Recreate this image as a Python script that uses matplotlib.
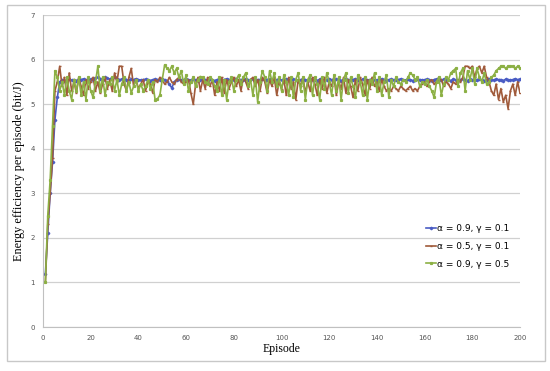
import matplotlib
matplotlib.use("Agg")
import matplotlib.pyplot as plt
from matplotlib.patches import Rectangle
import numpy as np

episodes = list(range(1, 201))

blue = [1.2, 2.1, 3.0, 3.7, 4.65, 5.15, 5.5, 5.55, 5.52, 5.55, 5.56, 5.54, 5.55, 5.53, 5.56, 5.55, 5.57, 5.54, 5.55, 5.56,
        5.55, 5.58, 5.6, 5.57, 5.55, 5.6, 5.58, 5.56, 5.59, 5.6, 5.57, 5.55, 5.56, 5.58, 5.55, 5.54, 5.56, 5.55, 5.57, 5.55,
        5.54, 5.55, 5.56, 5.55, 5.53, 5.55, 5.56, 5.55, 5.54, 5.56, 5.55, 5.52, 5.45, 5.36, 5.5, 5.55, 5.56, 5.54, 5.55, 5.57,
        5.55, 5.54, 5.56, 5.55, 5.53, 5.55, 5.57, 5.55, 5.54, 5.56, 5.55, 5.53, 5.55, 5.56, 5.54, 5.55, 5.57, 5.55, 5.53, 5.55,
        5.56, 5.54, 5.55, 5.55, 5.57, 5.54, 5.55, 5.56, 5.53, 5.55, 5.55, 5.57, 5.54, 5.55, 5.56, 5.55, 5.53, 5.55, 5.56, 5.54,
        5.55, 5.57, 5.55, 5.54, 5.56, 5.55, 5.53, 5.55, 5.56, 5.55, 5.54, 5.57, 5.55, 5.55, 5.53, 5.56, 5.55, 5.54, 5.55, 5.57,
        5.55, 5.54, 5.56, 5.55, 5.53, 5.55, 5.56, 5.55, 5.54, 5.55, 5.57, 5.55, 5.53, 5.56, 5.55, 5.54, 5.55, 5.56, 5.55, 5.54,
        5.55, 5.57, 5.55, 5.53, 5.55, 5.56, 5.55, 5.54, 5.55, 5.57, 5.55, 5.54, 5.56, 5.55, 5.53, 5.55, 5.56, 5.55, 5.54, 5.55,
        5.56, 5.55, 5.53, 5.55, 5.57, 5.55, 5.54, 5.56, 5.55, 5.55, 5.53, 5.56, 5.55, 5.54, 5.55, 5.57, 5.55, 5.53, 5.56, 5.55,
        5.54, 5.55, 5.56, 5.55, 5.53, 5.55, 5.57, 5.55, 5.54, 5.56, 5.55, 5.55, 5.53, 5.56, 5.55, 5.54, 5.55, 5.57, 5.55, 5.56]

brown = [1.0, 2.3, 3.0, 3.8, 5.3, 5.5, 5.85, 5.4, 5.6, 5.2, 5.7, 5.3, 5.5, 5.25, 5.6, 5.4, 5.2, 5.55, 5.35, 5.5,
         5.6, 5.3, 5.5, 5.25, 5.45, 5.6, 5.35, 5.55, 5.3, 5.7, 5.5, 5.85, 5.85, 5.45, 5.3, 5.6, 5.8, 5.4, 5.55, 5.35,
         5.45, 5.55, 5.3, 5.5, 5.45, 5.25, 5.55, 5.5, 5.6, 5.55, 5.45, 5.5, 5.6, 5.5, 5.45, 5.55, 5.6, 5.5, 5.45, 5.5,
         5.55, 5.25, 5.0, 5.45, 5.6, 5.3, 5.55, 5.35, 5.6, 5.4, 5.55, 5.2, 5.5, 5.3, 5.6, 5.25, 5.55, 5.35, 5.5, 5.6,
         5.4, 5.55, 5.3, 5.6, 5.5, 5.35, 5.55, 5.6, 5.4, 5.55, 5.3, 5.6, 5.5, 5.25, 5.55, 5.4, 5.6, 5.2, 5.5, 5.35,
         5.55, 5.2, 5.6, 5.35, 5.5, 5.1, 5.55, 5.4, 5.6, 5.25, 5.5, 5.3, 5.6, 5.45, 5.2, 5.55, 5.35, 5.6, 5.25, 5.5,
         5.4, 5.6, 5.2, 5.5, 5.35, 5.6, 5.25, 5.55, 5.4, 5.15, 5.55, 5.3, 5.6, 5.45, 5.2, 5.55, 5.35, 5.6, 5.4, 5.5,
         5.3, 5.55, 5.4, 5.3, 5.35, 5.3, 5.4, 5.35, 5.3, 5.4, 5.35, 5.3, 5.35, 5.4, 5.3, 5.35, 5.3, 5.4, 5.45, 5.5,
         5.4, 5.5, 5.55, 5.45, 5.5, 5.6, 5.55, 5.4, 5.5, 5.45, 5.35, 5.5, 5.45, 5.55, 5.5, 5.6, 5.85, 5.85, 5.8, 5.85,
         5.6, 5.8, 5.85, 5.7, 5.85, 5.6, 5.5, 5.3, 5.2, 5.45, 5.1, 5.35, 5.05, 5.2, 4.9, 5.3, 5.45, 5.2, 5.5, 5.25]

green = [1.0, 2.5, 3.3, 4.5, 5.75, 5.6, 5.3, 5.5, 5.2, 5.6, 5.3, 5.1, 5.55, 5.3, 5.6, 5.2, 5.5, 5.1, 5.6, 5.3,
         5.15, 5.5, 5.85, 5.3, 5.6, 5.2, 5.5, 5.45, 5.6, 5.3, 5.55, 5.2, 5.45, 5.6, 5.3, 5.5, 5.25, 5.4, 5.55, 5.3,
         5.45, 5.3, 5.4, 5.55, 5.35, 5.5, 5.1, 5.12, 5.2, 5.55, 5.88, 5.8, 5.75, 5.85, 5.7, 5.8, 5.6, 5.75, 5.45, 5.65,
         5.3, 5.5, 5.6, 5.4, 5.55, 5.62, 5.6, 5.5, 5.45, 5.6, 5.55, 5.4, 5.3, 5.6, 5.2, 5.55, 5.1, 5.5, 5.6, 5.3,
         5.55, 5.65, 5.45, 5.6, 5.7, 5.4, 5.55, 5.2, 5.6, 5.05, 5.5, 5.75, 5.6, 5.3, 5.75, 5.5, 5.7, 5.4, 5.6, 5.3,
         5.65, 5.5, 5.2, 5.6, 5.15, 5.55, 5.7, 5.3, 5.6, 5.1, 5.55, 5.65, 5.2, 5.6, 5.45, 5.1, 5.6, 5.35, 5.7, 5.5,
         5.2, 5.65, 5.3, 5.6, 5.1, 5.55, 5.7, 5.25, 5.6, 5.4, 5.15, 5.65, 5.5, 5.2, 5.6, 5.1, 5.55, 5.45, 5.7, 5.3,
         5.6, 5.2, 5.5, 5.65, 5.15, 5.55, 5.4, 5.6, 5.5, 5.45, 5.55, 5.5, 5.6, 5.7, 5.65, 5.55, 5.6, 5.4, 5.5, 5.45,
         5.55, 5.4, 5.3, 5.15, 5.5, 5.6, 5.2, 5.45, 5.6, 5.55, 5.7, 5.75, 5.8, 5.4, 5.7, 5.8, 5.3, 5.75, 5.55, 5.8,
         5.45, 5.8, 5.6, 5.5, 5.7, 5.45, 5.5, 5.6, 5.65, 5.75, 5.8, 5.85, 5.85, 5.8, 5.85, 5.85, 5.85, 5.8, 5.85, 5.8]

labels = ["α = 0.9, γ = 0.1", "α = 0.5, γ = 0.1", "α = 0.9, γ = 0.5"]
colors = ["#4a5cc4", "#a05a3a", "#8cb044"]
markers = ["D", "_", "s"]

x_ticks = list(range(0, 201, 20))
y_ticks = list(range(0, 8))

fig = plt.figure(figsize=(5.5, 3.71), dpi=100)
fig.patches.append(Rectangle((7/550, 1-361/371), 538/550, 356/371, transform=fig.transFigure,
                             fill=False, edgecolor="#c8c8c8", linewidth=1.0))
ax = fig.add_axes([43/550, 1-327/371, 477/550, 312/371])

for series, lab, c, m in zip([blue, brown, green], labels, colors, markers):
    ax.plot(episodes, series, color=c, lw=1.2, marker=m, markersize=1.3, label=lab)

ax.set_xlim(0, 200)
ax.set_ylim(0, 7)
ax.set_xticks(x_ticks)
ax.set_yticks(y_ticks)
ax.yaxis.grid(True, color="#d0d0d0", lw=0.9)
ax.set_axisbelow(True)
for s in ["top", "right"]:
    ax.spines[s].set_visible(False)
for s in ["left", "bottom"]:
    ax.spines[s].set_color("#c0c0c0")
ax.tick_params(length=0, labelsize=5, colors="#555555", pad=6)

ax.set_xlabel("Episode", family="Liberation Serif", fontsize=8.5, labelpad=1)
ax.set_ylabel("Energy efficiency per episode (bit/J)", family="Liberation Serif", fontsize=8.8, labelpad=4)

leg = ax.legend(loc="center right", bbox_to_anchor=(0.995, 0.258), frameon=False, fontsize=6.5,
                handlelength=1.1, handletextpad=0.15, labelspacing=0.95)

fig.savefig("out.png", dpi=100)
